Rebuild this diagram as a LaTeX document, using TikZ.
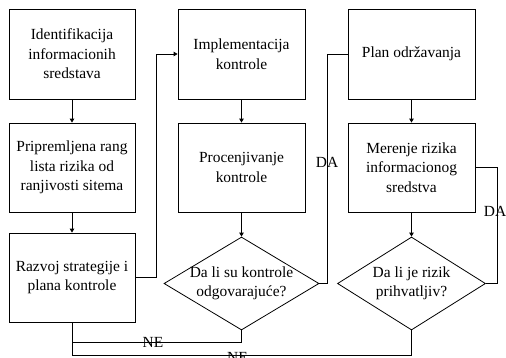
\documentclass[tikz,border=0pt]{standalone}
\usepackage{fontspec}
\setmainfont{Liberation Serif}
\usetikzlibrary{shapes.geometric,arrows.meta}

\begin{document}
\begin{tikzpicture}[x=1bp,y=-1bp,
  every node/.style={font=\rmfamily\fontsize{15.5}{19.5}\selectfont},
  flowbox/.style={draw, line width=0.8bp, minimum width=127bp, minimum height=89bp,
                  inner sep=0pt, align=center},
  decision/.style={draw, diamond, line width=0.8bp, inner sep=0pt},
  link/.style={line width=0.8bp},
  flow/.style={link, -{Triangle[length=4bp,width=4.5bp]}},
  tag/.style={inner sep=0pt}
]
\useasboundingbox (0,0) rectangle (506,357);

% first column
\node[flowbox, minimum width=126bp, minimum height=90bp] (ident) at (72,54)
  {Identifikacija\\informacionih\\sredstava};
\node[flowbox, minimum width=126bp] (rang) at (72,167.5)
  {Pripremljena rang\\lista rizika od\\ranjivosti sitema};
\node[flowbox, minimum width=126bp] (razvoj) at (72,277.5)
  {Razvoj strategije i\\plana kontrole};

% second column
\node[flowbox, minimum height=90bp] (impl) at (241.5,54)
  {Implementacija\\kontrole};
\node[flowbox] (procena) at (241.5,167.5)
  {Procenjivanje\\kontrole};
\node[decision, minimum width=155bp, minimum height=93bp] (odgovara) at (241.5,283.5) {};
\node[align=center] (odgovaraTxt) at (odgovara) {Da li su kontrole\\odgovarajuće?};

% third column
\node[flowbox, minimum height=90bp] (plan) at (411.5,54)
  {Plan održavanja};
\node[flowbox] (merenje) at (411.5,167.5)
  {Merenje rizika\\informacionog\\sredstva};
\node[decision, minimum width=148bp, minimum height=93bp] (prihvat) at (411.5,283.5) {};
\node[align=center] (prihvatTxt) at (prihvat) {Da li je rizik\\prihvatljiv?};

% vertical flow inside the columns
\draw[flow] (ident) -- (rang);
\draw[flow] (rang) -- (razvoj);
\draw[flow] (impl) -- (procena);
\draw[flow] (procena) -- (odgovara);
\draw[flow] (plan) -- (merenje);
\draw[flow] (merenje) -- (prihvat);

% links between the columns
\draw[flow] (razvoj.east) -- ++(21,0) |- (impl.west);
\draw[link] (odgovara.east) -- ++(8,0) coordinate (daA) |- (plan.west);
\draw[link] (prihvat.east) -- ++(11.5,0) coordinate (daB) |- (merenje.east);

% return paths
\draw[link] (odgovara.south) -- ++(0,12) coordinate (neA) -| (razvoj.south);
\draw[link] (prihvat.south) -- ++(0,25) coordinate (neB) -| (razvoj.south);

% labels
\node[tag] (daLabelA) at (327,162) {DA};
\node[tag] (daLabelB) at (495,211) {DA};
\node[tag] (neLabelA) at (153,342) {NE};
\node[tag] (neLabelB) at (237.5,357) {NE};
\end{tikzpicture}
\end{document}
